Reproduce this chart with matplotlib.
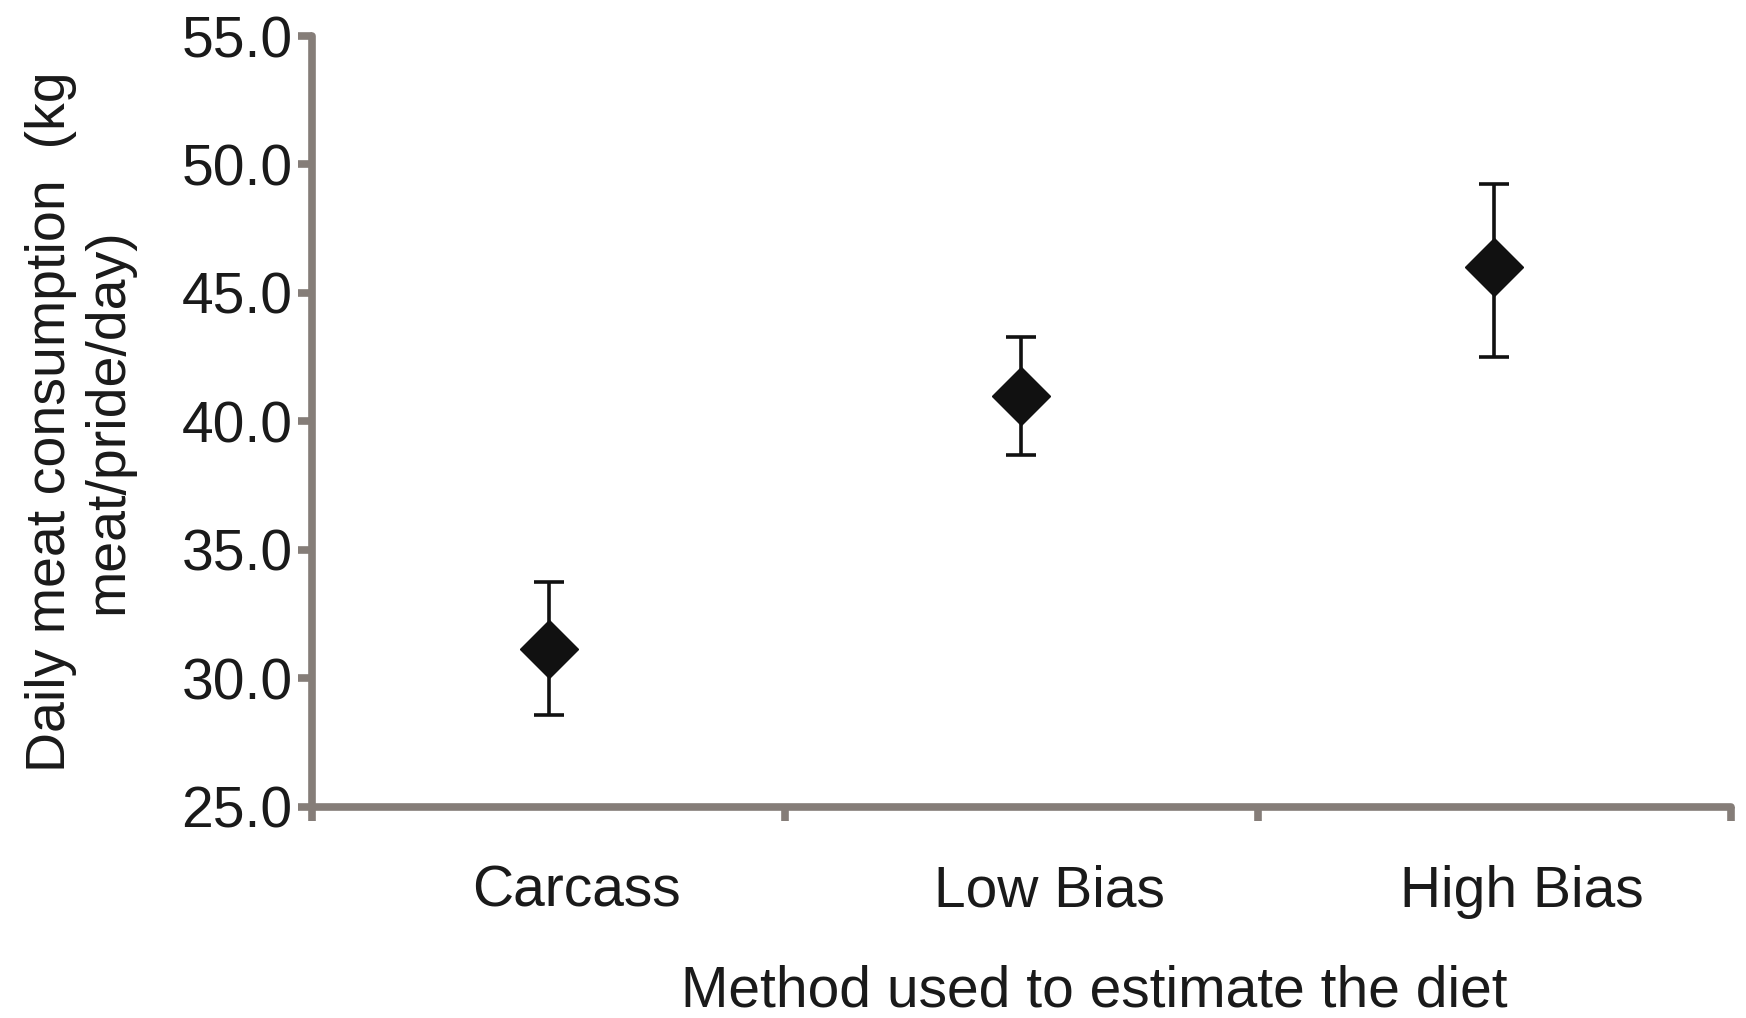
import matplotlib.pyplot as plt
import matplotlib.transforms as mtransforms
import numpy as np

plt.rcParams['font.family'] = ['Liberation Sans', 'DejaVu Sans']

methods = ["Carcass", "Low Bias", "High Bias"]
mean_intake = [31.15, 41.0, 46.0]
lower_ci = [28.55, 38.7, 42.5]
upper_ci = [33.75, 43.3, 49.25]

y_ticks = [25.0, 30.0, 35.0, 40.0, 45.0, 50.0, 55.0]

grey = "#857d78"
ink = "#1a1a1a"

fig = plt.figure(figsize=(17.46, 10.18), dpi=100)
ax = fig.add_axes([0.1787, 0.2077, 0.8127, 0.7569])

x = np.arange(len(methods)) + 0.5
err = [np.array(mean_intake) - np.array(lower_ci),
       np.array(upper_ci) - np.array(mean_intake)]

ax.errorbar(x, mean_intake, yerr=err, fmt="D", color="#111111",
            markersize=30, elinewidth=2.6, capsize=11, capthick=2.6,
            ecolor="#111111")

ax.set_xlim(0, 3)
ax.set_ylim(25, 55)
ax.set_yticks(y_ticks)
ax.set_yticklabels(["%.1f" % t for t in y_ticks])

# major ticks on the borders, labels in the middle
ax.set_xticks([0, 1, 2, 3])
ax.set_xticklabels([])
ax.set_xticks(x, minor=True)
ax.set_xticklabels(methods, minor=True)

for side in ["top", "right"]:
    ax.spines[side].set_visible(False)
for side in ["left", "bottom"]:
    ax.spines[side].set_color(grey)
    ax.spines[side].set_linewidth(5.5)
    ax.spines[side].set_capstyle("round")

ax.tick_params(axis="both", which="major", color=grey, width=5.5,
               length=10, direction="out", labelsize=41,
               labelcolor=ink)
ax.tick_params(axis="y", pad=4)
ax.tick_params(axis="x", which="minor", length=0, pad=42,
               labelsize=41, labelcolor=ink)

# category labels sit a little right of the points in the original
shift = mtransforms.ScaledTranslation(20 / 72, 0, fig.dpi_scale_trans)
for lab in ax.get_xticklabels(minor=True):
    lab.set_transform(lab.get_transform() + shift)

ax.set_xlabel("Method used to estimate the diet", fontsize=41, color=ink)
ax.xaxis.set_label_coords(0.551, -0.205)
ax.set_ylabel("Daily meat consumption  (kg\nmeat/pride/day)", fontsize=40,
              color=ink, linespacing=1.15)
ax.yaxis.set_label_coords(-0.125, 0.5)

fig.savefig("out.png", dpi=100)
